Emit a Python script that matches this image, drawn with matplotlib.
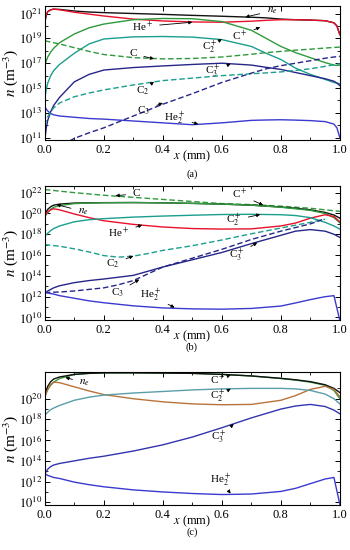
import numpy as np
import matplotlib
matplotlib.use("Agg")
import matplotlib.pyplot as plt
from matplotlib.ticker import FixedLocator, MultipleLocator, NullFormatter

plt.rcParams['font.family'] = ['Liberation Serif', 'DejaVu Serif']
plt.rcParams['mathtext.fontset'] = 'stix'

# ---------------- panel (a) data: log10 of n (m^-3) ----------------
xa = [0, 0.005, 0.01, 0.02, 0.03, 0.05, 0.1, 0.15, 0.2, 0.3, 0.4, 0.5,
      0.6, 0.7, 0.75, 0.8, 0.85, 0.9, 0.95, 0.98, 0.99, 1.0]
ne_a = [20.3, 20.9, 21.15, 21.3, 21.35, 21.33, 21.2, 21.12, 21.07, 21.0, 20.93, 20.85,
        20.78, 20.7, 20.65, 20.55, 20.5, 20.47, 20.42, 20.25, 20.0, 19.3]
hep_a = [20.3, 20.9, 21.15, 21.3, 21.35, 21.3, 21.1, 20.95, 20.8, 20.55, 20.4, 20.32,
         20.3, 20.38, 20.45, 20.5, 20.5, 20.47, 20.42, 20.25, 20.0, 19.3]
cp_a = [16.8, 17.2, 17.5, 17.9, 18.2, 18.65, 19.35, 19.85, 20.15, 20.5, 20.6, 20.58,
        20.35, 19.65, 19.0, 18.35, 17.85, 17.45, 17.05, 16.85, 16.82, 16.85]
c2p_a = [14.2, 14.9, 15.4, 16.0, 16.4, 16.9, 17.8, 18.55, 18.95, 19.12, 19.15, 19.1,
         18.9, 18.35, 17.8, 17.3, 16.6, 16.1, 15.7, 15.45, 15.4, 15.35]
c3p_a = [10.8, 11.8, 12.4, 13.1, 13.6, 14.25, 15.5, 16.1, 16.45, 16.65, 16.78, 16.9,
         17.0, 16.85, 16.67, 16.5, 16.25, 16.0, 15.75, 15.55, 15.4, 15.2]
he2_a = [13.5, 13.3, 13.15, 12.95, 12.85, 12.75, 12.65, 12.55, 12.5, 12.35, 12.2, 12.05,
         12.2, 12.4, 12.43, 12.45, 12.42, 12.38, 12.3, 12.1, 11.8, 11.0]
c_a = [18.8, 18.78, 18.75, 18.7, 18.65, 18.55, 18.25, 17.95, 17.7, 17.45, 17.35, 17.38,
       17.5, 17.72, 17.85, 17.95, 18.05, 18.13, 18.22, 18.27, 18.28, 18.3]
c2_a = [12.0, 12.4, 12.7, 13.1, 13.4, 13.8, 14.3, 14.6, 14.85, 15.25, 15.6, 15.8,
        16.0, 16.15, 16.22, 16.3, 16.42, 16.55, 16.75, 16.88, 16.92, 16.95]
xa_c3 = [0, 0.05, 0.1, 0.15, 0.2, 0.3, 0.4, 0.5, 0.6, 0.7, 0.75, 0.8, 0.85, 0.9, 0.95, 0.98, 1.0]
c3_a = [9.0, 10.3, 10.95, 11.4, 11.8, 12.75, 13.7, 14.55, 15.45, 16.2, 16.55, 16.8,
        17.0, 17.2, 17.4, 17.5, 17.55]

# ---------------- panel (b) data ----------------
xb = [0, 0.01, 0.02, 0.03, 0.05, 0.1, 0.15, 0.2, 0.3, 0.4, 0.5, 0.6, 0.7, 0.8,
      0.85, 0.9, 0.95, 0.98, 1.0]
cp_b = [19.7, 20.1, 20.4, 20.6, 20.75, 20.95, 21.0, 21.03, 21.05, 21.02, 20.97, 20.9,
        20.8, 20.6, 20.45, 20.3, 20.0, 19.6, 19.1]
ne_b = [19.9, 20.4, 20.65, 20.8, 20.9, 21.0, 21.02, 21.04, 21.05, 21.02, 20.97, 20.9,
        20.8, 20.62, 20.5, 20.35, 20.1, 19.85, 19.55]
hep_b = [19.8, 20.15, 20.35, 20.45, 20.35, 19.95, 19.6, 19.3, 18.95, 18.7, 18.55, 18.5,
         18.52, 18.8, 19.08, 19.55, 19.88, 19.7, 19.2]
c2p_b = [17.8, 18.1, 18.35, 18.55, 18.8, 19.2, 19.4, 19.5, 19.65, 19.75, 19.83, 19.9,
         19.92, 19.88, 19.8, 19.6, 19.15, 18.8, 18.5]
c3p_b = [12.3, 12.55, 12.7, 12.85, 13.05, 13.35, 13.55, 13.7, 14.05, 14.85, 15.55, 16.25,
         17.1, 17.9, 18.3, 18.45, 18.3, 18.0, 17.7]
he2_b = [12.4, 12.35, 12.3, 12.25, 12.1, 11.85, 11.6, 11.42, 11.12, 10.92, 10.83, 10.8,
         10.87, 11.1, 11.4, 11.72, 12.0, 12.1, 9.7]
xb_c = [0, 0.05, 0.1, 0.2, 0.3, 0.4, 0.5, 0.6, 0.7, 0.8, 0.9, 0.95, 1.0]
c_b = [22.3, 22.15, 22.0, 21.75, 21.55, 21.35, 21.15, 20.95, 20.85, 20.7, 20.5, 20.35, 20.2]
xb_c2 = [0, 0.05, 0.1, 0.15, 0.2, 0.25, 0.3, 0.35, 0.4, 0.5, 0.6, 0.7, 0.8, 0.9, 0.95]
c2_b = [17.0, 16.85, 16.6, 16.3, 15.95, 15.8, 15.9, 16.15, 16.45, 16.9, 17.45, 18.05,
        18.6, 19.15, 19.45]
xb_c3 = [0, 0.05, 0.1, 0.15, 0.2, 0.25, 0.3, 0.4, 0.5, 0.6, 0.7, 0.8, 0.9, 0.94]
c3_b = [12.4, 12.45, 12.55, 12.7, 12.85, 13.15, 13.55, 14.85, 15.7, 16.55, 17.5, 18.3,
        19.0, 19.4]

# ---------------- panel (c) data ----------------
xc = [0, 0.01, 0.02, 0.03, 0.05, 0.1, 0.15, 0.2, 0.3, 0.4, 0.5, 0.6, 0.7, 0.8,
      0.85, 0.9, 0.95, 0.98, 1.0]
cp_c = [20.2, 20.9, 21.3, 21.6, 21.95, 22.35, 22.45, 22.5, 22.5, 22.48, 22.45, 22.35,
        22.2, 21.95, 21.8, 21.6, 21.3, 20.8, 20.0]
ne_c = [20.3, 21.2, 21.65, 21.9, 22.1, 22.35, 22.45, 22.5, 22.5, 22.48, 22.45, 22.35,
        22.2, 21.97, 21.83, 21.65, 21.35, 21.0, 20.6]
brown_c = [20.2, 20.9, 21.4, 21.6, 21.55, 21.15, 20.75, 20.4, 20.0, 19.7, 19.5, 19.42,
           19.45, 19.85, 20.3, 20.9, 21.2, 20.9, 20.2]
c2p_c = [18.4, 18.7, 18.95, 19.1, 19.35, 19.85, 20.15, 20.35, 20.55, 20.7, 20.85, 20.95,
         21.0, 21.0, 20.95, 20.8, 20.45, 20.0, 19.5]
c3p_c = [12.75, 13.2, 13.45, 13.6, 13.75, 14.0, 14.25, 14.45, 14.95, 15.55, 16.3, 17.2,
         18.15, 19.0, 19.3, 19.45, 19.25, 18.9, 18.55]
he2_c = [12.75, 12.6, 12.5, 12.4, 12.3, 11.95, 11.7, 11.5, 11.2, 11.0, 10.85, 10.75,
         10.8, 11.05, 11.35, 11.8, 12.25, 12.4, 9.8]

BLACK = '#111111'
RED = '#e8102a'
GREEN = '#2f9a3c'
TEAL = '#1a9e8e'
NAVY = '#26268a'
BLUE = '#3a3ad0'

fig = plt.figure(figsize=(3.5, 5.5), dpi=100)
left, width = 0.128, 0.843
ax_a = fig.add_axes([left, 0.745, width, 0.244])
ax_b = fig.add_axes([left, 0.418, width, 0.244])
ax_c = fig.add_axes([left, 0.082, width, 0.242])


def curve(ax, x, logv, color, ls='-'):
    ax.plot(x, 10 ** np.array(logv), color=color, ls=ls, lw=1.0,
            dashes=(4, 2) if ls == '--' else (None, None))


def note(ax, text, txy, pxy):
    ax.annotate(text, xy=(pxy[0], 10 ** pxy[1]), xytext=(txy[0], 10 ** txy[1]),
                fontsize=8, ha='center', va='center',
                arrowprops=dict(arrowstyle='-|>', color='k', lw=0.6,
                                mutation_scale=5, shrinkA=3, shrinkB=0))


def style(ax, ylo, yhi, major):
    ax.set_yscale('log')
    ax.set_xlim(0, 1)
    ax.set_ylim(10 ** ylo, 10 ** yhi)
    ax.yaxis.set_major_locator(FixedLocator([10.0 ** k for k in major]))
    ax.yaxis.set_minor_locator(FixedLocator([10.0 ** (k + 1) for k in major] +
                                            [10.0 ** (major[0] - 1)]))
    ax.yaxis.set_minor_formatter(NullFormatter())
    ax.set_yticklabels([r'$10^{%d}$' % k for k in major])
    ax.xaxis.set_major_locator(MultipleLocator(0.2))
    ax.xaxis.set_minor_locator(MultipleLocator(0.1))
    ax.xaxis.set_major_formatter(matplotlib.ticker.FormatStrFormatter('%.1f'))
    ax.tick_params(which='both', direction='in', top=True, right=True,
                   labelsize=9, pad=2)
    ax.tick_params(axis='x', pad=3)
    ax.tick_params(which='major', length=3.5, width=0.7)
    ax.tick_params(which='minor', length=2, width=0.6)
    for s in ax.spines.values():
        s.set_linewidth(0.8)
    ax.set_xlabel(r'$x$ (mm)', fontsize=9, labelpad=-5.5)
    ax.set_ylabel(r'$n$ (m$^{-3}$)', fontsize=11, labelpad=-1)


# (a)
curve(ax_a, xa, ne_a, BLACK)
curve(ax_a, xa, hep_a, RED)
curve(ax_a, xa, cp_a, GREEN)
curve(ax_a, xa, c2p_a, TEAL)
curve(ax_a, xa, c3p_a, NAVY)
curve(ax_a, xa, he2_a, BLUE)
curve(ax_a, xa, c_a, GREEN, '--')
curve(ax_a, xa, c2_a, TEAL, '--')
curve(ax_a, xa_c3, c3_a, NAVY, '--')
style(ax_a, 10.8, 21.6, [11, 13, 15, 17, 19, 21])
note(ax_a, r'$n_e$', (0.77, 21.2), (0.68, 20.72))
note(ax_a, r'He$^+$', (0.33, 19.95), (0.5, 20.3))
note(ax_a, r'C$^+$', (0.66, 19.2), (0.73, 19.9))
note(ax_a, r'C$_2^+$', (0.56, 18.3), (0.6, 18.95))
note(ax_a, 'C', (0.30, 17.75), (0.37, 17.35))
note(ax_a, r'C$_3^+$', (0.57, 16.35), (0.63, 16.95))
note(ax_a, r'C$_2$', (0.33, 14.8), (0.37, 15.5))
note(ax_a, r'C$_3$', (0.335, 13.2), (0.4, 13.8))
note(ax_a, r'He$_2^+$', (0.44, 12.6), (0.52, 12.1))

# (b)
curve(ax_b, xb_c, c_b, GREEN, '--')
curve(ax_b, xb, ne_b, BLACK)
curve(ax_b, xb, cp_b, GREEN)
curve(ax_b, xb, hep_b, RED)
curve(ax_b, xb, c2p_b, TEAL)
curve(ax_b, xb_c2, c2_b, TEAL, '--')
curve(ax_b, xb, c3p_b, NAVY)
curve(ax_b, xb_c3, c3_b, NAVY, '--')
curve(ax_b, xb, he2_b, BLUE)
style(ax_b, 9.75, 22.65, [10, 12, 14, 16, 18, 20, 22])
note(ax_b, 'C', (0.31, 21.9), (0.24, 21.7))
note(ax_b, r'C$^+$', (0.66, 21.85), (0.74, 20.8))
note(ax_b, r'$n_e$', (0.13, 20.2), (0.04, 20.85))
note(ax_b, r'C$_2^+$', (0.64, 19.35), (0.73, 19.9))
note(ax_b, r'He$^+$', (0.25, 18.1), (0.33, 18.9))
note(ax_b, r'C$_2$', (0.23, 15.2), (0.3, 15.9))
note(ax_b, r'C$_3^+$', (0.65, 16.0), (0.72, 17.2))
note(ax_b, r'C$_3$', (0.245, 12.4), (0.32, 13.65))
note(ax_b, r'He$_2^+$', (0.36, 12.1), (0.44, 10.95))

# (c)
curve(ax_c, xc, cp_c, GREEN)
curve(ax_c, xc, ne_c, BLACK)
curve(ax_c, xc, brown_c, '#b8733a')
curve(ax_c, xc, c2p_c, '#5a9eaa')
curve(ax_c, xc, c3p_c, '#3434b0')
curve(ax_c, xc, he2_c, '#3a3ad0')
style(ax_c, 9.75, 22.6, [10, 12, 14, 16, 18, 20])
note(ax_c, r'$n_e$', (0.135, 21.55), (0.07, 22.05))
note(ax_c, r'C$^+$', (0.585, 21.8), (0.63, 22.3))
note(ax_c, r'C$_2^+$', (0.585, 20.2), (0.63, 20.97))
note(ax_c, r'C$_3^+$', (0.59, 16.3), (0.64, 17.55))
note(ax_c, r'He$_2^+$', (0.595, 12.1), (0.63, 10.85))

for lab, yy in [('(a)', 0.683), ('(b)', 0.368), ('(c)', 0.032)]:
    fig.text(0.548, yy, lab, ha='center', va='center', fontsize=7.5)

fig.savefig('out.png', dpi=100)
